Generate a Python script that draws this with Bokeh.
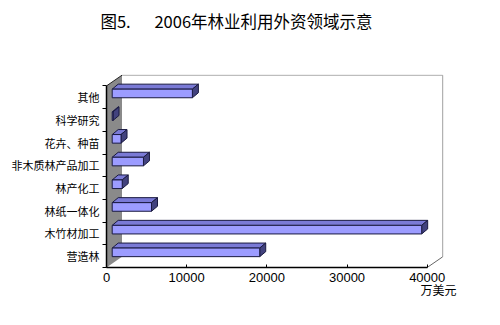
from bokeh.plotting import figure
from bokeh.models import FixedTicker, Range1d, LinearAxis
from bokeh.embed import file_html
from bokeh.resources import INLINE

# ---- data ----
categories = ["营造林", "木竹材加工", "林纸一体化", "林产化工",
              "非木质林产品加工", "花卉、种苗", "科学研究", "其他"]
values = [18400, 38600, 4900, 1250, 3900, 1100, 100, 10000]
x_ticks = [0, 10000, 20000, 30000, 40000]
title_fig = "图5."
title_main = "2006年林业利用外资领域示意"
unit_text = "万美元"

# ---- geometry (pixels) ----
W, H = 500, 325
FL, FR, FT, FB = 106, 446, 74, 267
X_MAX = x_ticks[-1]
ux = X_MAX / 320.7          # data units per px (x)
uy = 1 / 22.7               # category units per px (y)
n = len(categories)

p = figure(width=W, height=H,
           x_range=Range1d(0, (FR - FL) * ux), y_range=Range1d(0, (FB - FT) * uy),
           output_backend="svg", toolbar_location=None,
           min_border_left=FL, min_border_right=W - FR,
           min_border_top=FT, min_border_bottom=H - FB)
p.outline_line_color = None
p.grid.visible = False
p.background_fill_color = "white"
p.border_fill_color = "white"

DX, DY = 15.5 * ux, 10.7 * uy

# back wall outline
p.line([DX, X_MAX + DX, X_MAX + DX], [n + DY, n + DY, DY], line_color="#a0a0a0", line_width=1)
# left side wall
p.patch([0, DX, DX, 0], [0, DY, n + DY, n], fill_color="#8a8a8a", line_color=None)
p.line([0, DX], [n, n + DY], line_color="#222222", line_width=1)
# floor right slant
p.line([X_MAX, X_MAX + DX], [0, DY], line_color="#666666", line_width=1)

# bars
ox, oy = 5.7 * ux, 3.8 * uy
bdx, bdy = 6 * ux, 5 * uy
h = 8.6 * uy
fl, fr, fb, ft = [], [], [], []
top_xs, top_ys, side_xs, side_ys = [], [], [], []
for i, v in enumerate(values):
    l, r = ox, v + ox
    b = i + 0.5 - h / 2 + oy
    t = i + 0.5 + h / 2 + oy
    fl.append(l); fr.append(r); fb.append(b); ft.append(t)
    top_xs.append([l, l + bdx, r + bdx, r]); top_ys.append([t, t + bdy, t + bdy, t])
    side_xs.append([r, r + bdx, r + bdx, r]); side_ys.append([b, b + bdy, t + bdy, t])

p.patches(top_xs, top_ys, fill_color="#7a7ad6", line_color="#1a1a40", line_width=1)
p.patches(side_xs, side_ys, fill_color="#42427e", line_color="#1a1a40", line_width=1)
p.quad(left=fl, right=fr, bottom=fb, top=ft, fill_color="#9c9cff", line_color="#1a1a40", line_width=1)

# x axis
xa = p.xaxis[0]
xa.ticker = FixedTicker(ticks=x_ticks, minor_ticks=[])
xa.bounds = (0, X_MAX)
xa.axis_line_color = "black"
xa.axis_line_width = 1.5
xa.major_tick_in = 3
xa.major_tick_out = 0
xa.major_tick_line_color = "black"
xa.minor_tick_line_color = None
xa.major_label_standoff = 5
xa.major_label_text_font = "Liberation Sans"
xa.major_label_text_font_size = "13px"
xa.major_label_text_color = "black"

# y axis
ya = p.yaxis[0]
centers = [i + 0.5 for i in range(n)]
ya.ticker = FixedTicker(ticks=centers, minor_ticks=list(range(n + 1)))
ya.bounds = (0, n)
ya.major_label_overrides = {c: cat for c, cat in zip(centers, categories)}
ya.axis_line_color = "black"
ya.axis_line_width = 1.5
ya.major_tick_line_color = None
ya.major_tick_in = 0
ya.major_tick_out = 0
ya.minor_tick_in = 0
ya.minor_tick_out = 4
ya.minor_tick_line_color = "black"
ya.major_label_standoff = 3
ya.major_label_text_font = "Noto Sans CJK SC"
ya.major_label_text_font_size = "11px"
ya.major_label_text_color = "black"

# title (as an unlined axis above the frame)
t1 = int(round((115 - FL) * ux))
t2 = int(round((263 - FL) * ux))
ta = LinearAxis(ticker=FixedTicker(ticks=[t1, t2], minor_ticks=[]),
                major_label_overrides={t1: title_fig, t2: title_main},
                axis_line_color=None, major_tick_line_color=None,
                minor_tick_line_color=None, major_tick_in=0, major_tick_out=0,
                major_label_standoff=42,
                major_label_text_font="Noto Sans CJK SC",
                major_label_text_font_size="16.5px",
                major_label_text_color="black")
p.add_layout(ta, "above")

# unit label below the x axis
u1 = int(round((438 - FL) * ux))
ua = LinearAxis(ticker=FixedTicker(ticks=[u1], minor_ticks=[]),
                major_label_overrides={u1: unit_text},
                axis_line_color=None, major_tick_line_color=None,
                minor_tick_line_color=None, major_tick_in=0, major_tick_out=0,
                major_label_standoff=-4,
                major_label_text_font="Noto Sans CJK SC",
                major_label_text_font_size="12px",
                major_label_text_color="black")
p.add_layout(ua, "below")

open("out.html", "w").write(file_html(p, INLINE))
